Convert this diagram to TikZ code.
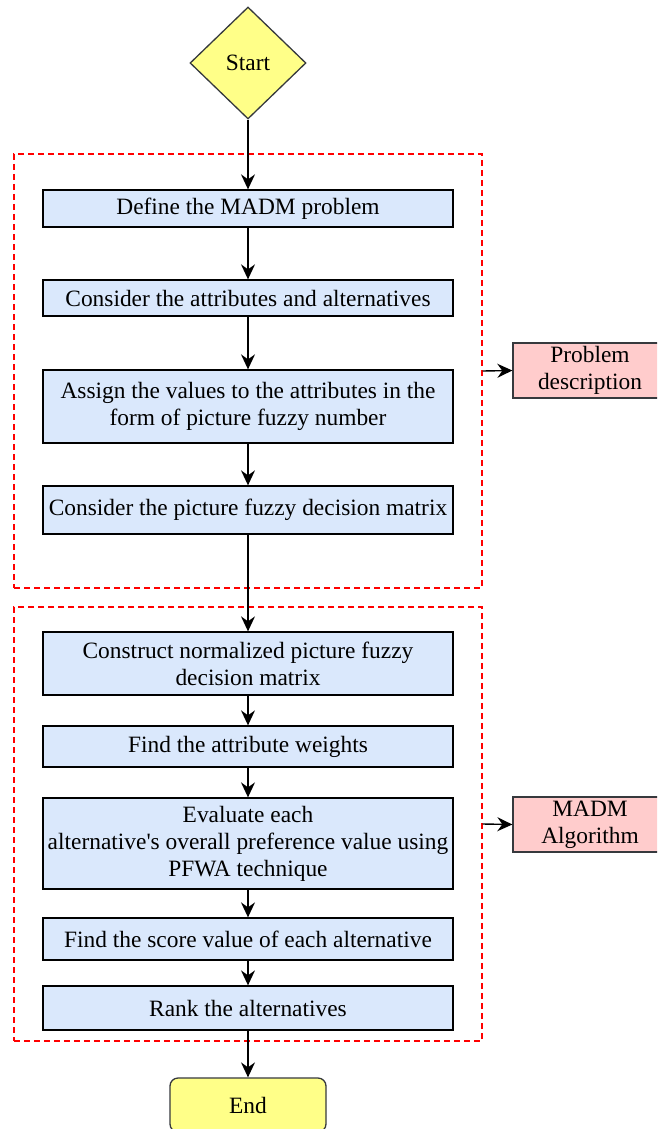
\documentclass[tikz,border=0pt]{standalone}
\usepackage{fontspec}
\setmainfont{Liberation Serif}
\usetikzlibrary{shapes.geometric,arrows.meta}
\definecolor{boxblue}{HTML}{DAE8FC}
\definecolor{startyellow}{HTML}{FFFF88}
\definecolor{pinkbox}{HTML}{FFCCCC}
\definecolor{edgegray}{HTML}{36393D}
\begin{document}
\begin{tikzpicture}[x=1pt,y=-1pt,
  every node/.style={font=\fontsize{23.4}{27}\selectfont, inner sep=0pt, align=center},
  stepbox/.style={rectangle, draw=black, fill=boxblue, line width=1.3pt, minimum width=410pt},
  sidebox/.style={rectangle, draw=edgegray, fill=pinkbox, line width=1.3pt, minimum width=154pt, minimum height=55pt},
  groupbox/.style={rectangle, draw=red, dash pattern=on 6pt off 4pt, line width=1.4pt, minimum width=468pt, minimum height=434pt},
  arr/.style={-{Stealth[length=15pt,width=14pt,inset=5pt]}, line width=1.4pt, black}
]
\clip (0,0) rectangle (657,1129);
\node[groupbox] (g1) at (248,371) {};
\node[groupbox] (g2) at (248,824) {};
\node[diamond, draw=edgegray, fill=startyellow, line width=1.3pt, minimum width=116pt, minimum height=112pt] (start) at (248,63) {Start};
\node[stepbox, minimum height=37pt] (b1) at (248,208.5) {Define the MADM problem};
\node[stepbox, minimum height=36pt] (b2) at (248,298) {Consider the attributes and alternatives};
\node[stepbox, minimum height=73pt] (b3) at (248,406.5) {Assign the values to the attributes in the\\form of picture fuzzy number};
\node[stepbox, minimum height=48pt] (b4) at (248,510) {Consider the picture fuzzy decision matrix};
\node[stepbox, minimum height=63pt] (b5) at (248,663.5) {Construct normalized picture fuzzy\\decision matrix};
\node[stepbox, minimum height=41pt] (b6) at (248,746.5) {Find the attribute weights};
\node[stepbox, minimum height=91pt] (b7) at (248,843.5) {Evaluate each\\alternative\textquotesingle s overall preference value using\\PFWA technique};
\node[stepbox, minimum height=42pt] (b8) at (248,939) {Find the score value of each alternative};
\node[stepbox, minimum height=44pt] (b9) at (248,1008) {Rank the alternatives};
\node[rectangle, rounded corners=8pt, draw=edgegray, fill=startyellow, line width=1.3pt, minimum width=156pt, minimum height=54pt] (end) at (248,1105) {End};
\node[sidebox] (pd) at (590,370.5) {Problem\\description};
\node[sidebox] (ma) at (590,824.5) {MADM\\Algorithm};
\draw[arr] (start) -- (b1);
\draw[arr] (b1) -- (b2);
\draw[arr] (b2) -- (b3);
\draw[arr] (b3) -- (b4);
\draw[arr] (b4) -- (b5);
\draw[arr] (b5) -- (b6);
\draw[arr] (b6) -- (b7);
\draw[arr] (b7) -- (b8);
\draw[arr] (b8) -- (b9);
\draw[arr] (b9) -- (end);
\draw[arr] (g1.east) -- (pd.west);
\draw[arr] (g2.east) -- (ma.west);
\end{tikzpicture}
\end{document}
